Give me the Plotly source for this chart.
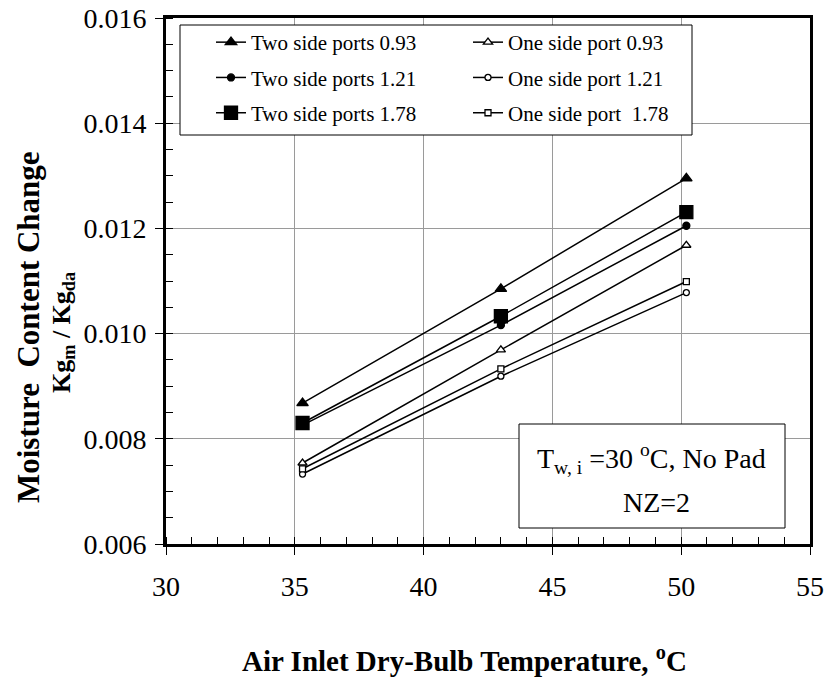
import plotly.graph_objects as go

# ---- data ----
air_temp = [35.3, 43.0, 50.2]
two_side_093 = [0.00868, 0.01085, 0.01295]
two_side_121 = [0.00826, 0.01016, 0.01205]
two_side_178 = [0.00830, 0.01033, 0.01231]
one_side_093 = [0.00754, 0.00969, 0.01168]
one_side_121 = [0.00733, 0.00919, 0.01078]
one_side_178 = [0.00743, 0.00933, 0.01099]

x_ticks = [30, 35, 40, 45, 50, 55]
y_ticks = [0.006, 0.008, 0.010, 0.012, 0.014, 0.016]

FONT = "Liberation Serif"

W, H = 828, 682
L, R, T, B = 166, W - 810, 18, H - 544
PW, PH = W - L - R, H - T - B


def px_x(p):
    """page pixel x -> paper coordinate"""
    return (p - L) / PW


def px_y(p):
    """page pixel y -> paper coordinate"""
    return (H - B - p) / PH


series = [
    ("Two side ports 0.93", two_side_093, "triangle-up", 10, "black", "legend"),
    ("Two side ports 1.21", two_side_121, "circle", 7, "black", "legend"),
    ("Two side ports 1.78", two_side_178, "square", 13, "black", "legend"),
    ("One side port 0.93", one_side_093, "triangle-up", 8, "white", "legend2"),
    ("One side port 1.21", one_side_121, "circle", 6, "white", "legend2"),
    ("One side port\u00a0 1.78", one_side_178, "square", 6, "white", "legend2"),
]

fig = go.Figure()
for i, (name, vals, sym, size, fill, leg) in enumerate(series):
    fig.add_trace(go.Scatter(
        x=air_temp, y=vals, name=name, mode="lines+markers",
        line=dict(color="black", width=1.5),
        marker=dict(symbol=sym, size=size, color=fill,
                    line=dict(color="black", width=1.3)),
        legend=leg, legendgroup=f"g{i}",
    ))

axis_common = dict(
    showline=True, linecolor="black", linewidth=3, mirror=True,
    showgrid=True, gridcolor="#9a9a9a", gridwidth=1,
    zeroline=False, ticks="outside", ticklen=8, tickcolor="black", tickwidth=1,
    tickfont=dict(family=FONT, size=28, color="black"),
    ticklabeloverflow="allow", automargin=False,
)

fig.update_xaxes(
    range=[30, 55], tickvals=x_ticks, ticktext=[str(v) for v in x_ticks],
    ticklabelstandoff=7,
    minor=dict(dtick=1, ticks="inside", ticklen=7, tickcolor="black", showgrid=False),
    **axis_common,
)
fig.update_yaxes(
    range=[0.006, 0.016], tickvals=y_ticks, ticktext=[f"{v:.3f}" for v in y_ticks],
    ticklabelstandoff=3,
    minor=dict(dtick=0.0005, ticks="inside", ticklen=7, tickcolor="black", showgrid=False),
    **axis_common,
)

legend_common = dict(
    xanchor="left", yanchor="top", bgcolor="rgba(0,0,0,0)", borderwidth=0,
    font=dict(family=FONT, size=21, color="black"), tracegroupgap=5,
    orientation="v",
)

fig.update_layout(
    width=W, height=H,
    margin=dict(l=L, r=R, t=T, b=B, pad=0, autoexpand=False),
    paper_bgcolor="white", plot_bgcolor="white",
    showlegend=True,
    legend=dict(x=px_x(211), y=px_y(22), **legend_common),
    legend2=dict(x=px_x(468), y=px_y(22), **legend_common),
    shapes=[
        dict(type="rect", xref="paper", yref="paper",
             x0=px_x(180), x1=px_x(692), y0=px_y(135), y1=px_y(25),
             line=dict(color="black", width=1), fillcolor="white", layer="above"),
        dict(type="rect", xref="paper", yref="paper",
             x0=px_x(519), x1=px_x(785), y0=px_y(528), y1=px_y(424),
             line=dict(color="black", width=1), fillcolor="white", layer="above"),
    ],
    annotations=[
        dict(text="T<sub>w, i</sub> =30 <sup>o</sup>C, No Pad", xref="paper", yref="paper",
             x=px_x(651), y=px_y(458), showarrow=False, xanchor="center", yanchor="middle",
             font=dict(family=FONT, size=28, color="black")),
        dict(text="NZ=2", xref="paper", yref="paper",
             x=px_x(656), y=px_y(502), showarrow=False, xanchor="center", yanchor="middle",
             font=dict(family=FONT, size=28, color="black")),
        dict(text="<b>Air Inlet Dry-Bulb Temperature, <sup>o</sup>C</b>", xref="paper", yref="paper",
             x=px_x(464), y=px_y(659), showarrow=False, xanchor="center", yanchor="middle",
             font=dict(family=FONT, size=29, color="black")),
        dict(text="<b>Moisture\u00a0 Content Change</b>", xref="paper", yref="paper",
             x=px_x(28), y=px_y(327), showarrow=False, xanchor="center", yanchor="middle",
             textangle=-90, font=dict(family=FONT, size=31, color="black")),
        dict(text="<b>Kg<sub>m</sub> / Kg<sub>da</sub></b>", xref="paper", yref="paper",
             x=px_x(63), y=px_y(333), showarrow=False, xanchor="center", yanchor="middle",
             textangle=-90, font=dict(family=FONT, size=26, color="black")),
    ],
)

fig.write_html("out.html", config={"displayModeBar": False},
               post_script="document.body.style.margin='0';")
